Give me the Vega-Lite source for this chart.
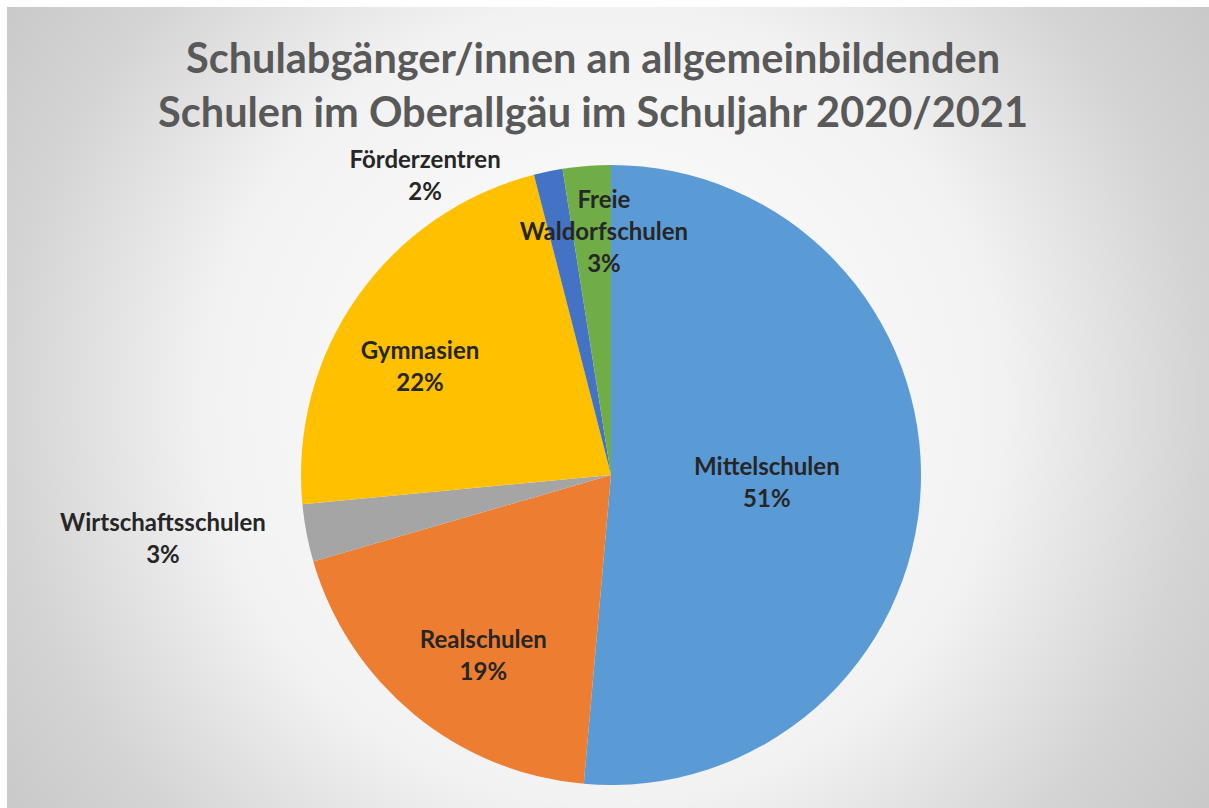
{
  "$schema": "https://vega.github.io/schema/vega-lite/v6.json",
  "width": 1208,
  "height": 936,
  "autosize": "none",
  "padding": {"left": 7, "top": 7, "right": -6, "bottom": -135},
  "background": "#ffffff",
  "title": {
    "text": ["Schulabgänger/innen an allgemeinbildenden", "Schulen im Oberallgäu im Schuljahr 2020/2021"],
    "font": "Lato",
    "fontSize": 41.5,
    "fontWeight": "bold",
    "color": "#595959",
    "lineHeight": 54,
    "offset": -189,
    "baseline": "alphabetic",
    "anchor": "middle",
    "dx": -18
  },
  "config": {"view": {"stroke": null}},
  "data": {
    "values": [
      {"school": "Mittelschulen", "value": 51.4, "idx": 1, "label": "Mittelschulen\n51%"},
      {"school": "Realschulen", "value": 19.1, "idx": 2, "label": "Realschulen\n19%"},
      {"school": "Wirtschaftsschulen", "value": 3.0, "idx": 3, "label": "Wirtschaftsschulen\n3%"},
      {"school": "Gymnasien", "value": 22.5, "idx": 4, "label": "Gymnasien\n22%"},
      {"school": "Förderzentren", "value": 1.5, "idx": 5, "label": "Förderzentren\n2%"},
      {"school": "Freie Waldorfschulen", "value": 2.5, "idx": 6, "label": "Freie\nWaldorfschulen\n3%"}
    ]
  },
  "layer": [
    {
      "data": {"values": [{}]},
      "mark": {
        "type": "rect",
        "fill": {
          "gradient": "radial",
          "x1": 0.494, "y1": 0.441, "r1": 0,
          "x2": 0.494, "y2": 0.441, "r2": 0.66,
          "stops": [
            {"offset": 0, "color": "#ffffff"},
            {"offset": 0.5, "color": "#f2f2f2"},
            {"offset": 0.75, "color": "#d4d4d4"},
            {"offset": 1, "color": "#c2c2c2"}
          ]
        }
      },
      "encoding": {}
    },
    {
      "mark": {"type": "arc", "radius": 310, "stroke": null},
      "encoding": {
        "theta": {"field": "value", "type": "quantitative", "stack": true},
        "order": {"field": "idx", "type": "quantitative"},
        "color": {
          "field": "school", "type": "nominal", "legend": null,
          "scale": {
            "domain": ["Mittelschulen", "Realschulen", "Wirtschaftsschulen", "Gymnasien", "Förderzentren", "Freie Waldorfschulen"],
            "range": ["#5B9BD5", "#ED7D31", "#A5A5A5", "#FFC000", "#4472C4", "#70AD47"]
          }
        }
      }
    },
    {
      "mark": {"type": "text", "font": "Lato", "fontWeight": "bold", "fontSize": 24, "fill": "#262626", "lineBreak": "\n", "lineHeight": 32, "baseline": "middle", "align": "center", "radius": 156, "dy": -14},
      "encoding": {
        "theta": {"field": "value", "type": "quantitative", "stack": true},
        "order": {"field": "idx", "type": "quantitative"},
        "text": {"condition": {"test": "datum.school === 'Mittelschulen'", "field": "label", "type": "nominal"}, "value": ""}
      }
    },
    {
      "mark": {"type": "text", "font": "Lato", "fontWeight": "bold", "fontSize": 24, "fill": "#262626", "lineBreak": "\n", "lineHeight": 32, "baseline": "middle", "align": "center", "radius": 220, "dx": 12, "dy": -4},
      "encoding": {
        "theta": {"field": "value", "type": "quantitative", "stack": true},
        "order": {"field": "idx", "type": "quantitative"},
        "text": {"condition": {"test": "datum.school === 'Realschulen'", "field": "label", "type": "nominal"}, "value": ""}
      }
    },
    {
      "mark": {"type": "text", "font": "Lato", "fontWeight": "bold", "fontSize": 24, "fill": "#262626", "lineBreak": "\n", "lineHeight": 32, "baseline": "middle", "align": "center", "radius": 450, "dx": -6, "dy": -35},
      "encoding": {
        "theta": {"field": "value", "type": "quantitative", "stack": true},
        "order": {"field": "idx", "type": "quantitative"},
        "text": {"condition": {"test": "datum.school === 'Wirtschaftsschulen'", "field": "label", "type": "nominal"}, "value": ""}
      }
    },
    {
      "mark": {"type": "text", "font": "Lato", "fontWeight": "bold", "fontSize": 24, "fill": "#262626", "lineBreak": "\n", "lineHeight": 32, "baseline": "middle", "align": "center", "radius": 220, "dx": -11, "dy": 4},
      "encoding": {
        "theta": {"field": "value", "type": "quantitative", "stack": true},
        "order": {"field": "idx", "type": "quantitative"},
        "text": {"condition": {"test": "datum.school === 'Gymnasien'", "field": "label", "type": "nominal"}, "value": ""}
      }
    },
    {
      "mark": {"type": "text", "font": "Lato", "fontWeight": "bold", "fontSize": 24, "fill": "#262626", "lineBreak": "\n", "lineHeight": 32, "baseline": "middle", "align": "center", "radius": 330, "dx": -119, "dy": 9},
      "encoding": {
        "theta": {"field": "value", "type": "quantitative", "stack": true},
        "order": {"field": "idx", "type": "quantitative"},
        "text": {"condition": {"test": "datum.school === 'Förderzentren'", "field": "label", "type": "nominal"}, "value": ""}
      }
    },
    {
      "mark": {"type": "text", "font": "Lato", "fontWeight": "bold", "fontSize": 24, "fill": "#262626", "lineBreak": "\n", "lineHeight": 32, "baseline": "middle", "align": "center", "radius": 243, "dx": 12, "dy": -32},
      "encoding": {
        "theta": {"field": "value", "type": "quantitative", "stack": true},
        "order": {"field": "idx", "type": "quantitative"},
        "text": {"condition": {"test": "datum.school === 'Freie Waldorfschulen'", "field": "label", "type": "nominal"}, "value": ""}
      }
    }
  ]
}
